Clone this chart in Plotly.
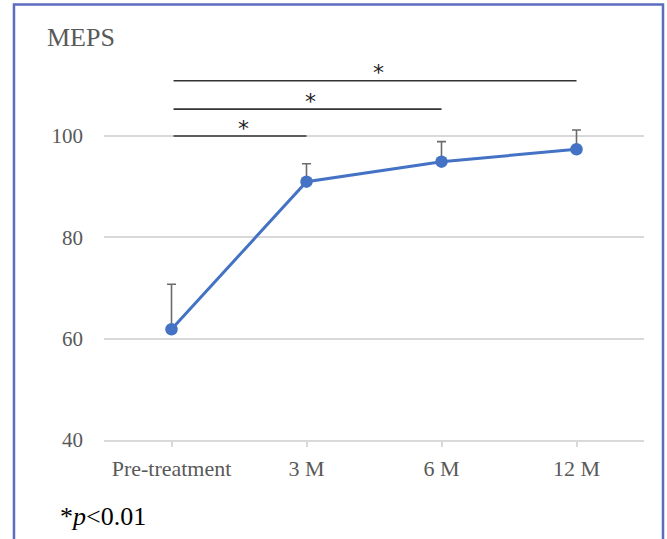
import plotly.graph_objects as go

categories = ["Pre-treatment", "3 M", "6 M", "12 M"]
means = [61.85, 90.98, 94.93, 97.38]
sd_upper = [8.9, 3.55, 3.95, 3.8]
y_ticks = [40, 60, 80, 100]

# significance brackets: (from index, to index, y level)
sig_from = [0, 0, 0]
sig_to = [1, 2, 3]
sig_level = [100, 105.3, 110.9]
sig_label = "*"

FONT = "Liberation Serif"
GRAY = "#595959"

fig = go.Figure()
fig.add_trace(go.Scatter(
    x=list(range(len(categories))), y=means,
    mode="lines+markers",
    line=dict(color="#4472C4", width=3),
    marker=dict(color="#4472C4", size=12.5, symbol="circle"),
    error_y=dict(type="data", array=sd_upper, arrayminus=[0]*len(sd_upper),
                 color="#6b6b6b", thickness=1.6, width=4.5),
    showlegend=False,
))

shapes = []
annotations = []
for a, b, lv in zip(sig_from, sig_to, sig_level):
    shapes.append(dict(type="line", xref="x", yref="y", x0=a + 0.015, x1=b,
                       y0=lv, y1=lv, line=dict(color="#333333", width=1.6), layer="above"))
    annotations.append(dict(x=(a + b) / 2, y=lv, xref="x", yref="y", text=sig_label,
                            showarrow=False, xshift=4, yshift=8,
                            font=dict(family="DejaVu Sans", size=22, color="#222222")))

# outer border
shapes.append(dict(type="rect", xref="paper", yref="paper", x0=-0.1667, x1=1.0352,
                   y0=-0.35, y1=1.146, line=dict(color="#5C6CBF", width=2.5)))

annotations.append(dict(x=-0.109, y=1.0605, xref="paper", yref="paper", text="MEPS",
                        showarrow=False, xanchor="left", yanchor="middle",
                        font=dict(family=FONT, size=26, color=GRAY)))
annotations.append(dict(x=-0.085, y=-0.2026, xref="paper", yref="paper",
                        text="*<i>p</i>&lt;0.01",
                        showarrow=False, xanchor="left", yanchor="middle",
                        font=dict(family=FONT, size=26, color="#000000")))

fig.update_layout(
    width=667, height=539,
    margin=dict(l=104, r=23, t=60, b=99),
    paper_bgcolor="white", plot_bgcolor="white",
    shapes=shapes, annotations=annotations,
    font=dict(family=FONT, size=21, color=GRAY),
)
fig.update_xaxes(
    range=[-0.5, 3.5], tickmode="array", tickvals=list(range(len(categories))),
    ticktext=categories, showgrid=False, zeroline=False,
    showline=True, linecolor="#d9d9d9", linewidth=1.5,
    ticks="outside", ticklen=5, tickcolor="#d9d9d9", tickwidth=1.5,
    ticklabelstandoff=3,
    tickfont=dict(family=FONT, size=22, color=GRAY),
)
fig.update_yaxes(
    range=[40, 115], tickmode="array", tickvals=y_ticks,
    showgrid=True, gridcolor="#d9d9d9", gridwidth=1.5, zeroline=False,
    showline=False, ticks="", ticklabelstandoff=20,
    tickfont=dict(family=FONT, size=21, color=GRAY),
)

fig.write_html("out.html", config={"displayModeBar": False},
               post_script="document.body.style.margin='0';document.body.style.overflow='hidden';")
